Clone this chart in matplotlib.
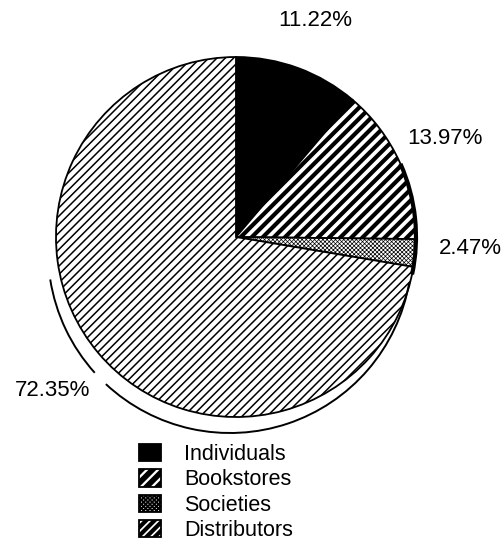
import matplotlib
matplotlib.use("Agg")
import matplotlib.pyplot as plt
from matplotlib.patches import Arc

plt.rcParams['font.family'] = ['Liberation Sans', 'DejaVu Sans']
plt.rcParams['hatch.linewidth'] = 1.3

labels = ['Individuals', 'Bookstores', 'Societies', 'Distributors']
shares = [11.22, 13.97, 2.47, 72.35]
pct_text = ['11.22%', '13.97%', '2.47%', '72.35%']

fills = ['black', 'white', 'white', 'white']
hatches = [None, '///', 'xxxxxxxx', '////']
hatch_lw = [1.0, 3.0, 0.5, 1.1]
explode = [0, 0, 0, 0.025]

W, H = 504, 554
fig = plt.figure(figsize=(W / 100, H / 100), dpi=100)
ax = fig.add_axes([0, 0, 1, 1])

cx, cy, r = 236, H - 237, 180
wedges, _ = ax.pie(shares, startangle=90, counterclock=False, colors=fills,
                   explode=explode, center=(cx, cy), radius=r,
                   wedgeprops=dict(edgecolor='black', linewidth=1.3))
for w, h, lw in zip(wedges, hatches, hatch_lw):
    if h:
        w.set_hatch(h)
    if hasattr(w, 'set_hatch_linewidth'):
        w.set_hatch_linewidth(lw)

ax.set_xlim(0, W)
ax.set_ylim(0, H)
ax.set_aspect('equal')
ax.axis('off')

# pie thickness: heavy edge on the right, rim line underneath (broken at the label)
ax.add_patch(Arc((cx, cy), 2 * r, 2 * r, theta1=-12, theta2=24, color='black', lw=3))
rim_c, rim_r = (230, H - 251), 182
ax.add_patch(Arc(rim_c, 2 * rim_r, 2 * rim_r, theta1=189, theta2=222, color='black', lw=1.4))
ax.add_patch(Arc(rim_c, 2 * rim_r, 2 * rim_r, theta1=227, theta2=350, color='black', lw=1.4))

# percentage labels
pos = [(315, H - 21), (445, H - 139), (470, H - 248), (53, H - 391)]
for (x, y), t in zip(pos, pct_text):
    ax.text(x, y, t, ha='center', va='center', fontsize=16)

leg = ax.legend(wedges, labels, loc='upper left', bbox_to_anchor=(139 / W, 1 - 444 / H),
                frameon=False, fontsize=15.5, handlelength=1.0, handleheight=0.85,
                handletextpad=1.1, labelspacing=0.2, borderpad=0, borderaxespad=0)
# legend swatches read darker than the slices in the original
for p in leg.get_patches():
    if hasattr(p, 'set_hatch_linewidth') and p.get_hatch() == '///':
        p.set_hatch_linewidth(4.0)
    elif hasattr(p, 'set_hatch_linewidth') and p.get_hatch() == '////':
        p.set_hatch_linewidth(3.0)

fig.savefig('out.png', dpi=100)
